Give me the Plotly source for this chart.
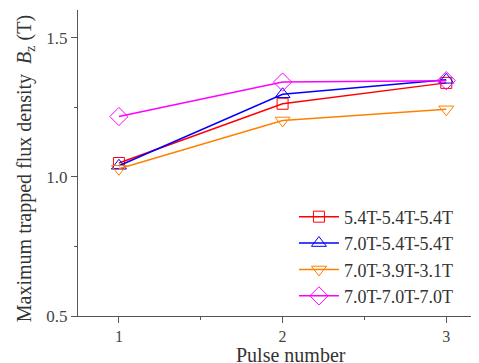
import plotly.graph_objects as go

pulses = [1, 2, 3]
names = ["5.4T-5.4T-5.4T", "7.0T-5.4T-5.4T", "7.0T-3.9T-3.1T", "7.0T-7.0T-7.0T"]
s1 = [1.05, 1.263, 1.338]
s2 = [1.04, 1.297, 1.349]
s3 = [1.029, 1.203, 1.243]
s4 = [1.217, 1.341, 1.346]
series = [s1, s2, s3, s4]
colors = ["#ff0000", "#0000ff", "#ff8000", "#ff00ff"]
symbols = ["square-open", "triangle-up-open", "triangle-down-open", "diamond-open"]
sizes = [11, 13, 13, 14]

fig = go.Figure()
for n, s, c, sym, sz in zip(names, series, colors, symbols, sizes):
    fig.add_trace(go.Scatter(
        x=pulses, y=s, name=n, mode="lines+markers",
        line=dict(color=c, width=1.5),
        marker=dict(symbol=sym, size=sz, color=c, line=dict(width=1)),
    ))

axis_common = dict(
    showline=True, linecolor="#555", linewidth=1.2,
    ticks="outside", ticklen=6, tickcolor="#555", tickwidth=1,
    showgrid=False, zeroline=False, automargin=False,
    tickfont=dict(family="Liberation Serif", size=17, color="#444"),
    minor=dict(ticks="outside", ticklen=3, tickcolor="#555"),
)

fig.update_layout(
    width=471, height=355,
    margin=dict(l=70, r=0, t=2, b=47),
    paper_bgcolor="white", plot_bgcolor="white",
    font=dict(family="Liberation Serif", color="#333"),
    showlegend=True,
    legend=dict(
        x=0.95, y=0.005, xanchor="right", yanchor="bottom",
        bgcolor="rgba(0,0,0,0)",
        font=dict(family="Liberation Serif", size=18, color="#333"),
        tracegroupgap=0, itemwidth=40,
    ),
    xaxis=dict(
        range=[0.75, 3.2], tickvals=[1, 2, 3],
        **axis_common,
    ),
    yaxis=dict(
        range=[0.5, 1.6], tickvals=[0.5, 1.0, 1.5], ticktext=["0.5", "1.0", "1.5"],
        **axis_common,
    ),
    annotations=[
        dict(
            text="Maximum trapped flux density  <i>B</i><sub>z</sub> (T)",
            xref="paper", yref="paper", x=-0.132, y=0.48,
            xanchor="center", yanchor="middle", textangle=-90, showarrow=False,
            font=dict(family="Liberation Serif", size=20, color="#333"),
        ),
        dict(
            text="Pulse number",
            xref="paper", yref="paper", x=0.531, y=-0.127,
            xanchor="center", yanchor="middle", showarrow=False,
            font=dict(family="Liberation Serif", size=20, color="#333"),
        ),
    ],
)
fig.update_xaxes(minor=dict(tickvals=[1.5, 2.5]), tickfont=dict(size=16))
fig.update_yaxes(minor=dict(tickvals=[0.75, 1.25]))

fig.write_html("out.html")
